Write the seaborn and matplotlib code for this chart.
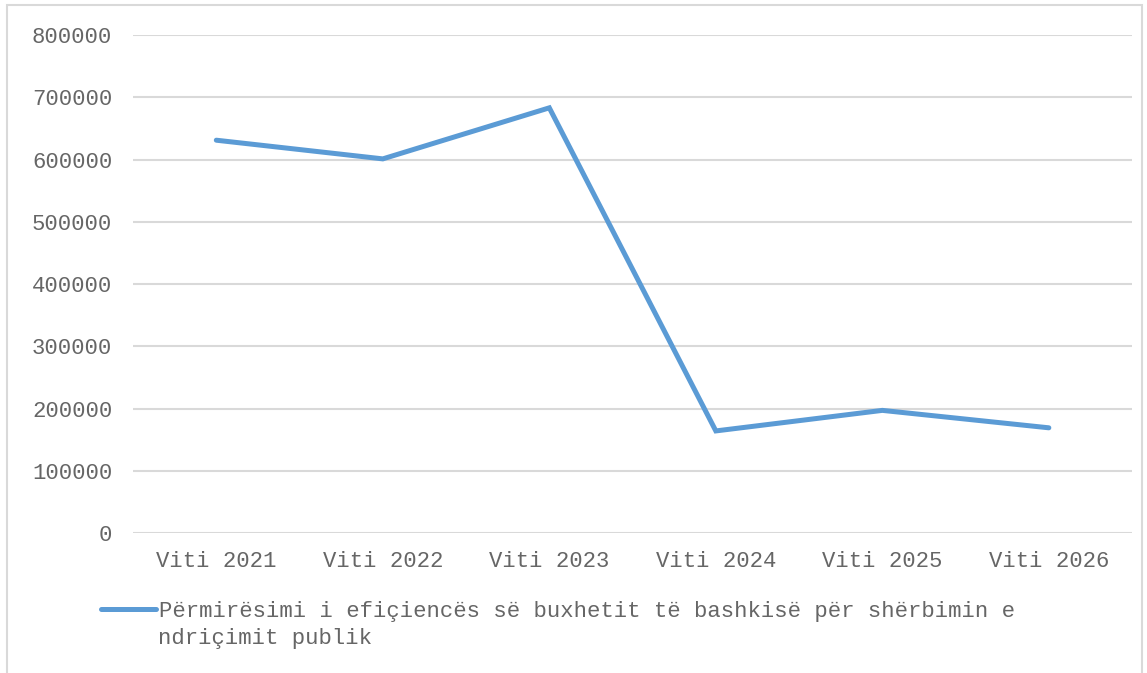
import matplotlib.pyplot as plt
import matplotlib.patches as patches
import seaborn as sns
import pandas as pd

years = ["Viti 2021", "Viti 2022", "Viti 2023", "Viti 2024", "Viti 2025", "Viti 2026"]
values = [631000, 601000, 683000, 164000, 197000, 169000]
series_line1 = "Përmirësimi i efiçiencës së buxhetit të bashkisë për shërbimin e"
series_line2 = "ndriçimit publik"
yticks = [0, 100000, 200000, 300000, 400000, 500000, 600000, 700000, 800000]

BLUE = "#5B9BD5"
GRAY_TXT = "#666666"
GRID = "#D9D9D9"

sns.set_style("white")
plt.rcParams["font.family"] = ["Liberation Mono", "DejaVu Sans Mono"]
plt.rcParams["font.size"] = 16

df = pd.DataFrame({"year": years, "value": values})

fig = plt.figure(figsize=(11.47, 6.73), dpi=100)
ax = fig.add_axes([0.116, 0.208, 0.871, 0.74])

sns.lineplot(data=df, x="year", y="value", color=BLUE, linewidth=3.6,
             solid_capstyle="round", solid_joinstyle="miter", label=series_line1, ax=ax)

ax.set_xlim(-0.5, 5.5)
ax.set_ylim(0, 800000)
ax.set_yticks(yticks)
ax.set_yticklabels([str(v) for v in yticks])
ax.set_xlabel("")
ax.set_ylabel("")
ax.grid(axis="y", color=GRID, linewidth=1.5)
ax.set_axisbelow(True)
for s in ax.spines.values():
    s.set_visible(False)
ax.tick_params(axis="both", length=0, colors=GRAY_TXT, labelsize=16)
ax.tick_params(axis="y", pad=15)
ax.tick_params(axis="x", pad=13)

# legend below the plot, label wraps onto a second line
ax.get_legend().remove()
fig.legend(loc="upper left", bbox_to_anchor=(0.088, 0.107), frameon=False,
           handlelength=2.48, handletextpad=0.13, labelcolor=GRAY_TXT,
           fontsize=16, borderaxespad=0, borderpad=0)
fig.text(0.1378, 0.052, series_line2, color=GRAY_TXT, fontsize=16, va="center", ha="left")

fig.patches.append(patches.Rectangle((0.006, -0.01), 0.99, 1.002, transform=fig.transFigure,
                                     fill=False, edgecolor=GRID, linewidth=1.5))

plt.savefig("out.png", dpi=100, facecolor="w")
